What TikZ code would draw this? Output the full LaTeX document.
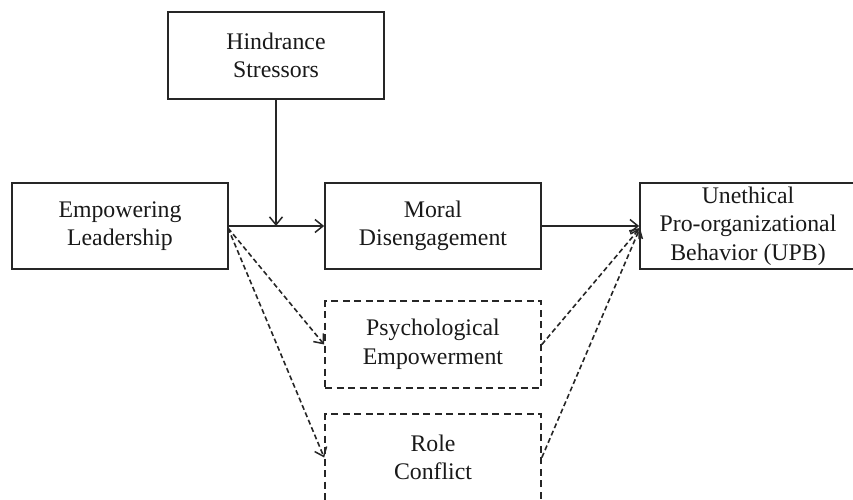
\documentclass[tikz,border=0pt]{standalone}
\usepackage{fontspec}
\setmainfont{Liberation Serif}
\usetikzlibrary{arrows.meta}
\begin{document}
\begin{tikzpicture}[x=1pt,y=-1pt,
  every node/.style={font=\fontsize{23.8}{28.5}\selectfont, align=center, text=black!90},
  solidbox/.style={draw=black!85, line width=1.7pt, minimum width=216pt, minimum height=86pt, inner sep=0pt},
  dashbox/.style={solidbox, dash pattern=on 7pt off 4.5pt},
  conn/.style={draw=black!85, line width=1.6pt, -{Straight Barb[length=8pt,width=13pt,line width=1.5pt]}},
  dconn/.style={conn, dash pattern=on 5pt off 3pt}]
\useasboundingbox (0,0) rectangle (853,499);
\clip (0,0) rectangle (853,499);
\node[solidbox, minimum height=87pt] (HS) at (276,55.5) {Hindrance\\Stressors};
\node[solidbox] (EL) at (120,226) {Empowering\\Leadership};
\node[solidbox] (MD) at (433,226) {Moral\\Disengagement};
\node[solidbox] (UPB) at (748,226) {Unethical\\Pro-organizational\\Behavior (UPB)};
\node[dashbox, minimum height=87pt] (PE) at (433,344.5) {Psychological\\Empowerment};
\node[dashbox, minimum height=87pt] (RC) at (433,457.5) {Role\\Conflict};
\coordinate (mod) at (276,226);
\coordinate (es) at (228,228);
\coordinate (ue) at (640,228);
\draw[conn] (EL.east) -- (MD.west);
\draw[conn] (HS.south) -- (mod);
\draw[conn] (MD.east) -- (UPB.west);
\draw[dconn] (es) -- (PE.west);
\draw[dconn] (es) -- (RC.west);
\draw[dconn] (PE.east) -- (ue);
\draw[dconn] (RC.east) -- (ue);
\end{tikzpicture}
\end{document}
